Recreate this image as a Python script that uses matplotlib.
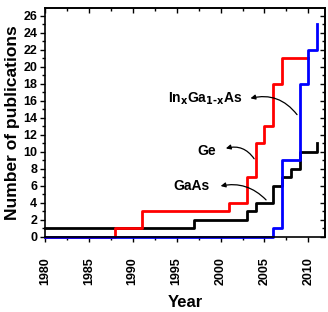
import matplotlib
matplotlib.use("Agg")
import matplotlib.pyplot as plt
from matplotlib.ticker import MultipleLocator

plt.rcParams['font.family'] = ['Liberation Sans', 'DejaVu Sans']
plt.rcParams['font.weight'] = 'bold'

# step data (year where the count changes, count from that year)
gaas_years = [1980, 1997, 2003, 2004, 2006, 2007, 2008, 2009, 2011]
gaas_counts = [1, 2, 3, 4, 6, 7, 8, 10, 11]

ge_years = [1980, 1988, 1991, 2001, 2003, 2004, 2005, 2006, 2007, 2010]
ge_counts = [0, 1, 3, 4, 7, 11, 13, 18, 21, 21]

ingaas_years = [1980, 2006, 2007, 2009, 2010, 2011]
ingaas_counts = [0, 1, 9, 18, 22, 25]

xticks = [1980, 1985, 1990, 1995, 2000, 2005, 2010]
yticks = list(range(0, 27, 2))


def main():
    fig = plt.figure(figsize=(3.28, 3.12), dpi=100)
    ax = fig.add_axes([0.137, 0.241, 0.854, 0.732])

    ax.step(gaas_years, gaas_counts, where='post', color='black', lw=2, clip_on=False)
    ax.step(ge_years, ge_counts, where='post', color='#ff0000', lw=2, clip_on=False)
    ax.step(ingaas_years, ingaas_counts, where='post', color='#0000ff', lw=2, clip_on=False)

    ax.set_xlim(1980, 2011.9)
    ax.set_ylim(0, 26.85)
    ax.set_xticks(xticks)
    ax.set_xticklabels([str(t) for t in xticks], rotation=90, fontsize=9, fontweight='bold')
    ax.set_yticks(yticks)
    ax.set_yticklabels([str(t) for t in yticks], fontsize=9, fontweight='bold')
    ax.xaxis.set_minor_locator(MultipleLocator(2.5))
    ax.yaxis.set_minor_locator(MultipleLocator(1))
    ax.tick_params(which='both', width=1)
    ax.tick_params(which='major', length=3.5, pad=2)
    ax.tick_params(which='minor', length=2.5)
    ax.tick_params(axis='x', which='both', direction='out', top=False)
    ax.tick_params(axis='x', which='major', pad=11)
    ax.tick_params(axis='y', which='both', direction='out', right=False)
    # inward ticks on top and right
    sec_x = ax.secondary_xaxis('top')
    sec_x.set_xticks(xticks)
    sec_x.set_xticklabels([])
    sec_x.xaxis.set_minor_locator(MultipleLocator(2.5))
    sec_x.tick_params(which='both', direction='in', width=1)
    sec_x.tick_params(which='major', length=3.5)
    sec_x.tick_params(which='minor', length=2.5)
    sec_y = ax.secondary_yaxis('right')
    sec_y.set_yticks(yticks)
    sec_y.set_yticklabels([])
    sec_y.yaxis.set_minor_locator(MultipleLocator(1))
    sec_y.tick_params(which='both', direction='in', width=1)
    sec_y.tick_params(which='major', length=3.5)
    sec_y.tick_params(which='minor', length=2.5)
    for sp in ax.spines.values():
        sp.set_linewidth(1.2)
    sec_x.spines['top'].set_linewidth(1.2)
    sec_y.spines['right'].set_linewidth(1.2)

    ax.set_xlabel("Year", fontsize=12, fontweight='bold', labelpad=7)
    ax.set_ylabel("Number of publications", fontsize=12.5, fontweight='bold', labelpad=2)

    ax.text(1998.3, 16.2, r"In$_\mathbf{x}$Ga$_\mathbf{1\text{-}x}$As", fontsize=10,
            fontweight='bold', ha='center', va='center')
    ax.text(1998.4, 10.1, "Ge", fontsize=10, fontweight='bold', ha='center', va='center')
    ax.text(1996.7, 6.0, "GaAs", fontsize=10, fontweight='bold', ha='center', va='center')

    arrow = dict(arrowstyle='-|>', color='black', lw=0.9, mutation_scale=7)
    ax.annotate("", xy=(2003.1, 16.2), xytext=(2008.9, 14.1),
                arrowprops=dict(arrow, connectionstyle='arc3,rad=0.35'))
    ax.annotate("", xy=(2000.3, 10.3), xytext=(2004.0, 8.9),
                arrowprops=dict(arrow, connectionstyle='arc3,rad=0.4'))
    ax.annotate("", xy=(1999.7, 5.9), xytext=(2005.4, 4.1),
                arrowprops=dict(arrow, connectionstyle='arc3,rad=0.3'))

    fig.savefig("out.png", dpi=100)


if __name__ == "__main__":
    main()
